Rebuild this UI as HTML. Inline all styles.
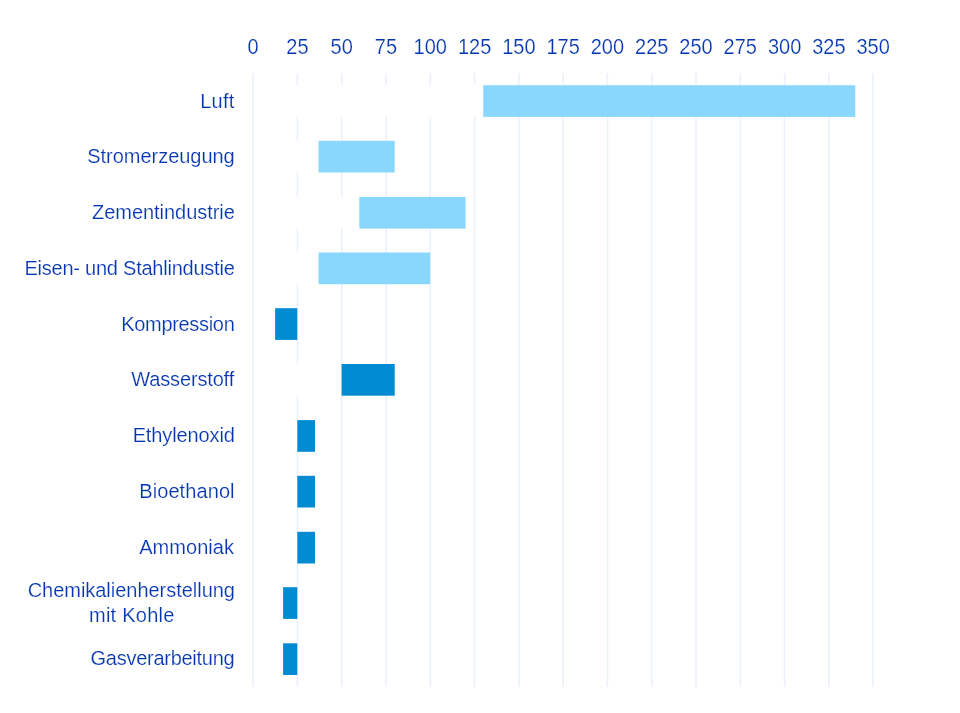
<!DOCTYPE html>
<html><head><meta charset="utf-8"><style>
html,body{margin:0;padding:0;background:#fff;width:960px;height:713px;overflow:hidden}
svg{display:block}
text{font-family:"Liberation Sans",sans-serif;font-size:20px;fill:#0536B2;stroke:#fff;stroke-width:0.18px;-webkit-font-smoothing:antialiased}
.t{opacity:0.999;will-change:transform}
</style></head><body>
<svg width="960" height="713" viewBox="0 0 960 713">
<rect width="960" height="713" fill="#fff"/>
<rect x="296.64" y="73.30" width="1.6" height="613.40" fill="#EAF0FF"/>
<rect x="340.92" y="73.30" width="1.6" height="613.40" fill="#EAF0FF"/>
<rect x="385.21" y="73.30" width="1.6" height="613.40" fill="#EAF0FF"/>
<rect x="429.49" y="73.30" width="1.6" height="613.40" fill="#EAF0FF"/>
<rect x="473.78" y="73.30" width="1.6" height="613.40" fill="#EAF0FF"/>
<rect x="518.06" y="73.30" width="1.6" height="613.40" fill="#EAF0FF"/>
<rect x="562.35" y="73.30" width="1.6" height="613.40" fill="#EAF0FF"/>
<rect x="606.64" y="73.30" width="1.6" height="613.40" fill="#EAF0FF"/>
<rect x="650.92" y="73.30" width="1.6" height="613.40" fill="#EAF0FF"/>
<rect x="695.21" y="73.30" width="1.6" height="613.40" fill="#EAF0FF"/>
<rect x="739.49" y="73.30" width="1.6" height="613.40" fill="#EAF0FF"/>
<rect x="783.78" y="73.30" width="1.6" height="613.40" fill="#EAF0FF"/>
<rect x="828.06" y="73.30" width="1.6" height="613.40" fill="#EAF0FF"/>
<rect x="872.35" y="73.30" width="1.6" height="613.40" fill="#EAF0FF"/>
<rect x="253.00" y="85.20" width="230.29" height="31.7" fill="#fff"/>
<rect x="483.29" y="85.20" width="372.00" height="31.7" fill="#8AD7FE"/>
<rect x="253.00" y="140.80" width="65.54" height="31.7" fill="#fff"/>
<rect x="318.54" y="140.80" width="76.17" height="31.7" fill="#8AD7FE"/>
<rect x="253.00" y="196.90" width="106.29" height="31.7" fill="#fff"/>
<rect x="359.29" y="196.90" width="106.29" height="31.7" fill="#8AD7FE"/>
<rect x="253.00" y="252.50" width="65.54" height="31.7" fill="#fff"/>
<rect x="318.54" y="252.50" width="111.60" height="31.7" fill="#8AD7FE"/>
<rect x="253.00" y="308.20" width="22.14" height="31.7" fill="#fff"/>
<rect x="275.14" y="308.20" width="22.14" height="31.7" fill="#008BD3"/>
<rect x="253.00" y="364.00" width="88.57" height="31.7" fill="#fff"/>
<rect x="341.57" y="364.00" width="53.14" height="31.7" fill="#008BD3"/>
<rect x="253.00" y="420.10" width="44.29" height="31.7" fill="#fff"/>
<rect x="297.29" y="420.10" width="17.71" height="31.7" fill="#008BD3"/>
<rect x="253.00" y="475.80" width="44.29" height="31.7" fill="#fff"/>
<rect x="297.29" y="475.80" width="17.71" height="31.7" fill="#008BD3"/>
<rect x="253.00" y="531.80" width="44.29" height="31.7" fill="#fff"/>
<rect x="297.29" y="531.80" width="17.71" height="31.7" fill="#008BD3"/>
<rect x="253.00" y="587.20" width="30.11" height="31.7" fill="#fff"/>
<rect x="283.11" y="587.20" width="14.17" height="31.7" fill="#008BD3"/>
<rect x="253.00" y="643.30" width="30.11" height="31.7" fill="#fff"/>
<rect x="283.11" y="643.30" width="14.17" height="31.7" fill="#008BD3"/>
<rect x="252.35" y="73.30" width="1.6" height="613.40" fill="#EAF0FF"/>
<g class="t">
<text x="253.15" y="0" text-anchor="middle" transform="translate(0,54.0) scale(1,1.065)">0</text>
<text x="297.44" y="0" text-anchor="middle" transform="translate(0,54.0) scale(1,1.065)">25</text>
<text x="341.72" y="0" text-anchor="middle" transform="translate(0,54.0) scale(1,1.065)">50</text>
<text x="386.01" y="0" text-anchor="middle" transform="translate(0,54.0) scale(1,1.065)">75</text>
<text x="430.29" y="0" text-anchor="middle" transform="translate(0,54.0) scale(1,1.065)">100</text>
<text x="474.58" y="0" text-anchor="middle" transform="translate(0,54.0) scale(1,1.065)">125</text>
<text x="518.86" y="0" text-anchor="middle" transform="translate(0,54.0) scale(1,1.065)">150</text>
<text x="563.15" y="0" text-anchor="middle" transform="translate(0,54.0) scale(1,1.065)">175</text>
<text x="607.44" y="0" text-anchor="middle" transform="translate(0,54.0) scale(1,1.065)">200</text>
<text x="651.72" y="0" text-anchor="middle" transform="translate(0,54.0) scale(1,1.065)">225</text>
<text x="696.01" y="0" text-anchor="middle" transform="translate(0,54.0) scale(1,1.065)">250</text>
<text x="740.29" y="0" text-anchor="middle" transform="translate(0,54.0) scale(1,1.065)">275</text>
<text x="784.58" y="0" text-anchor="middle" transform="translate(0,54.0) scale(1,1.065)">300</text>
<text x="828.86" y="0" text-anchor="middle" transform="translate(0,54.0) scale(1,1.065)">325</text>
<text x="873.15" y="0" text-anchor="middle" transform="translate(0,54.0) scale(1,1.065)">350</text>
<text x="217.45" y="107.70" text-anchor="middle" letter-spacing="0.267">Luft</text>
<text x="161.00" y="162.50" text-anchor="middle" letter-spacing="-0.031">Stromerzeugung</text>
<text x="163.45" y="219.10" text-anchor="middle" letter-spacing="-0.043">Zementindustrie</text>
<text x="129.50" y="274.80" text-anchor="middle" letter-spacing="-0.235">Eisen- und Stahlindustie</text>
<text x="177.85" y="330.50" text-anchor="middle" letter-spacing="-0.320">Kompression</text>
<text x="182.70" y="385.90" text-anchor="middle" letter-spacing="-0.160">Wasserstoff</text>
<text x="183.70" y="441.60" text-anchor="middle" letter-spacing="-0.120">Ethylenoxid</text>
<text x="186.95" y="497.60" text-anchor="middle" letter-spacing="0.089">Bioethanol</text>
<text x="186.65" y="553.50" text-anchor="middle" letter-spacing="0.057">Ammoniak</text>
<text x="131.30" y="596.80" text-anchor="middle" letter-spacing="-0.029">Chemikalienherstellung</text>
<text x="131.80" y="621.60" text-anchor="middle" letter-spacing="0.250">mit Kohle</text>
<text x="162.45" y="664.60" text-anchor="middle" letter-spacing="-0.271">Gasverarbeitung</text>
</g></svg></body></html>
